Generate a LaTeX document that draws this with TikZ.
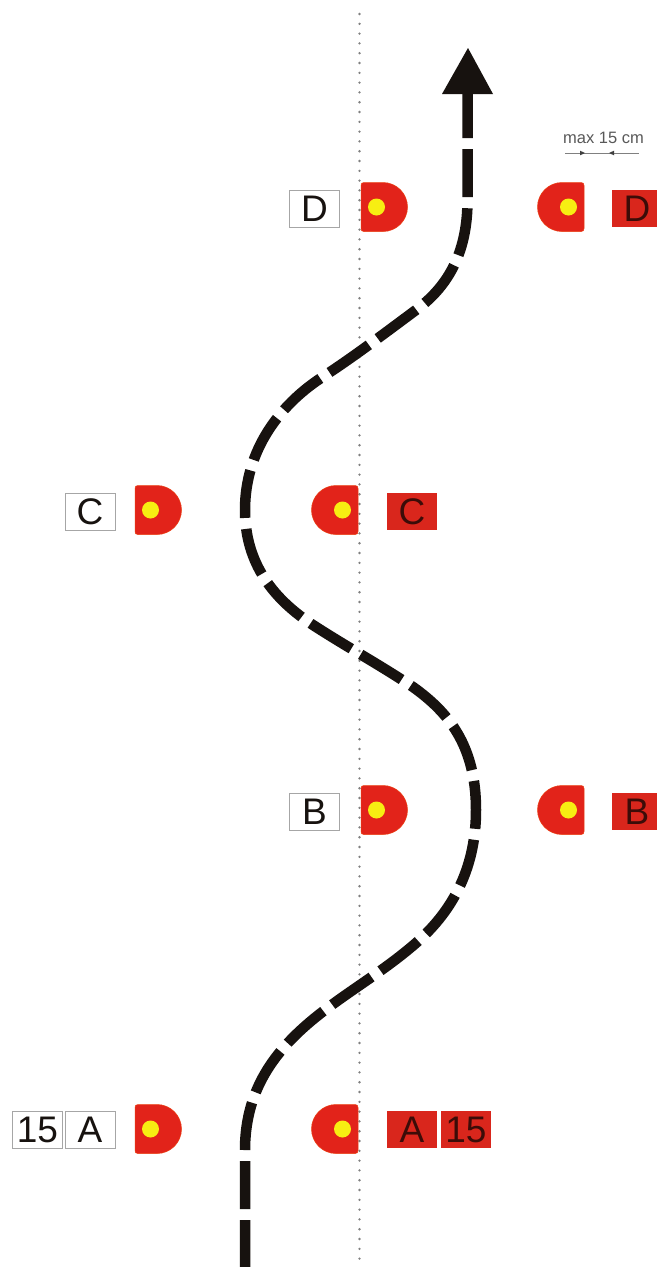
\documentclass[tikz,border=0pt]{standalone}
\usepackage{fontspec}
\setmainfont{Liberation Sans}
\definecolor{gateRed}{HTML}{E2231A}
\definecolor{labelRed}{HTML}{D9261C}
\definecolor{pinYellow}{HTML}{F7EE12}
\definecolor{inkBlack}{HTML}{17120F}
\definecolor{redInk}{HTML}{3C0C08}
\tikzset{
  x=1pt,y=-1pt,
  lbl/.style={minimum width=50pt,minimum height=37pt,inner sep=0pt,font=\fontsize{37}{37}\selectfont},
  lblWhite/.style={lbl,draw=black!35,line width=.6pt,fill=white,text=inkBlack},
  lblRed/.style={lbl,fill=labelRed,text=redInk},
  pinBody/.style={fill=gateRed,draw=gateRed!70!orange,line width=.5pt},
  pinDot/.style={fill=pinYellow,draw=none},
  pinRight/.pic={
    \path[pinBody] (3,-24.5) -- (22,-24.5) arc[start angle=-90,end angle=90,radius=24.5] -- (3,24.5)
      .. controls (1,24.5) and (0,23.5) .. (0,21.5) -- (0,-21.5) .. controls (0,-23.5) and (1,-24.5) .. (3,-24.5) -- cycle;
    \path[pinDot] (15.5,0) circle[radius=8.5];
  },
  pinLeft/.pic={
    \path[pinBody] (-3,-24.5) -- (-22,-24.5) arc[start angle=-90,end angle=-270,radius=24.5] -- (-3,24.5)
      .. controls (-1,24.5) and (0,23.5) .. (0,21.5) -- (0,-21.5) .. controls (0,-23.5) and (-1,-24.5) .. (-3,-24.5) -- cycle;
    \path[pinDot] (-15.5,0) circle[radius=8.5];
  },
  course/.style={draw=inkBlack,line width=10.5pt,dash pattern=on 48pt off 11pt,dash phase=1pt},
  centre/.style={draw=black!50,line width=2.6pt,line cap=round,dash pattern=on 0pt off 9.8pt},
  dim/.style={draw=black!50,line width=.5pt},
  dimTip/.style={fill=black!75,draw=none},
}
\begin{document}
\begin{tikzpicture}
\useasboundingbox[fill=white] (0,0) rectangle (657,1267);

% centre line
\coordinate (lineTop) at (359.5,14);
\coordinate (lineBot) at (359.5,1267);
\draw[centre] (lineTop) -- (lineBot);

% course
\coordinate (start) at (245,1267);
\coordinate (head) at (467.5,94);
\draw[course] (start) -- (245,1150)
  .. controls (245,1085) and (280,1045) .. (321,1013)
  .. controls (352,989) and (385,970) .. (416,943)
  .. controls (455,909) and (476,865) .. (476,810)
  .. controls (476,745) and (448,712) .. (413,687)
  .. controls (380,665) and (347,647) .. (313,625)
  .. controls (275,600) and (245,565) .. (245,510)
  .. controls (245,450) and (280,405) .. (321,378)
  .. controls (352,358) and (385,333) .. (416,310)
  .. controls (450,285) and (467.5,250) .. (467.5,200)
  -- (head);
\path[fill=inkBlack] (468,48) -- (493,94) -- (442,94) -- cycle;

% row D
\node[lblWhite] (lD) at (314.5,208.5) {D};
\pic at (361,207) {pinRight};
\pic at (584,207) {pinLeft};
\path[fill=labelRed] (612,190) rectangle (657,227);
\node[font=\fontsize{37}{37}\selectfont,text=redInk,inner sep=0pt] (rD) at (637,208.5) {D};

% row C
\node[lblWhite] (lC) at (90,511.5) {C};
\pic at (135,510) {pinRight};
\pic at (358,510) {pinLeft};
\node[lblRed] (rC) at (412,511.5) {C};

% row B
\node[lblWhite] (lB) at (314.5,811.5) {B};
\pic at (361,810) {pinRight};
\pic at (584,810) {pinLeft};
\path[fill=labelRed] (612,793) rectangle (657,830);
\node[font=\fontsize{37}{37}\selectfont,text=redInk,inner sep=0pt] (rB) at (637,811.5) {B};

% row A
\node[lblWhite] (lN) at (37.5,1129.5) {15};
\node[lblWhite] (lA) at (90,1129.5) {A};
\pic at (135,1129) {pinRight};
\pic at (358,1129) {pinLeft};
\node[lblRed] (rA) at (412,1129.5) {A};
\node[lblRed] (rN) at (466,1129.5) {15};

% dimension
\node[font=\fontsize{16.5}{17}\selectfont,text=black!65,inner sep=0pt] (maxT) at (603.5,138) {max 15 cm};
\coordinate (dL) at (565,153);
\coordinate (dR) at (639,153);
\draw[dim] (dL) -- (dR);
\path[dimTip] (585,153) -- (580,150.7) -- (580,155.3) -- cycle;
\path[dimTip] (609,153) -- (614,150.7) -- (614,155.3) -- cycle;
\end{tikzpicture}
\end{document}
